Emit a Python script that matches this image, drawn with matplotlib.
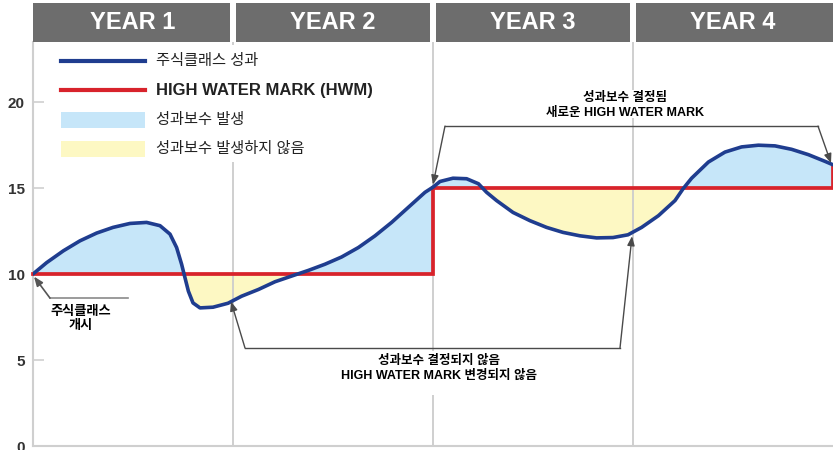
import numpy as np
import matplotlib
matplotlib.use("Agg")
import matplotlib.pyplot as plt
from matplotlib.patches import Rectangle
from matplotlib.lines import Line2D
from matplotlib.transforms import blended_transform_factory

plt.rcParams['font.family'] = ['Liberation Sans', 'Noto Sans CJK KR', 'DejaVu Sans']

# ---------------- data ----------------
years = ["YEAR 1", "YEAR 2", "YEAR 3", "YEAR 4"]

perf_x = [0.0, 0.068, 0.152, 0.235, 0.318, 0.40, 0.485, 0.568, 0.635, 0.685,
          0.718, 0.743, 0.76, 0.777, 0.80, 0.835, 0.90, 0.975, 1.043, 1.127,
          1.21, 1.293, 1.377, 1.46, 1.543, 1.627, 1.71, 1.793, 1.877, 1.96,
          2.0, 2.035, 2.10, 2.168, 2.227, 2.268, 2.318, 2.40, 2.485, 2.568,
          2.65, 2.735, 2.818, 2.90, 2.975, 3.043, 3.127, 3.21, 3.25, 3.293,
          3.377, 3.46, 3.543, 3.627, 3.71, 3.793, 3.877, 3.96, 4.0]
perf_y = [10.0, 10.66, 11.35, 11.93, 12.38, 12.71, 12.94, 13.0, 12.81, 12.32,
          11.54, 10.57, 9.78, 9.0, 8.32, 8.03, 8.07, 8.3, 8.71, 9.1,
          9.55, 9.88, 10.21, 10.57, 10.99, 11.54, 12.22, 13.0, 13.88, 14.75,
          15.05, 15.38, 15.57, 15.54, 15.25, 14.75, 14.27, 13.58, 13.1, 12.71,
          12.42, 12.22, 12.1, 12.12, 12.28, 12.71, 13.39, 14.27, 14.95, 15.57,
          16.51, 17.09, 17.39, 17.49, 17.45, 17.25, 16.94, 16.55, 16.35]

hwm_x = [0, 2, 2, 4, 4]
hwm_y = [10, 10, 15, 15, 16.35]

y_ticks = [0, 5, 10, 15, 20]

legend_labels = ["주식클래스 성과", "HIGH WATER MARK (HWM)", "성과보수 발생", "성과보수 발생하지 않음"]

# ---------------- style ----------------
BLUE = "#1f3d8f"
RED = "#d8232b"
FILL_BLUE = "#c6e6f9"
FILL_YEL = "#fdf8c3"
GRID = "#cccccc"
HEAD = "#6d6d6d"
ANN = "#4a4a4a"

fig = plt.figure(figsize=(8.33, 4.5), dpi=100)
ax = fig.add_axes([33 / 833, 4 / 450, 800 / 833, 404 / 450])
ax.set_xlim(0, 4)
ax.set_ylim(0, 23.49)

px = np.array(perf_x)
py = np.array(perf_y)

# fills, one segment per HWM level
for i in range(0, len(hwm_x) - 1, 2):
    x0, x1, lvl = hwm_x[i], hwm_x[i + 1], hwm_y[i]
    if x1 <= x0:
        continue
    m = (px >= x0) & (px <= x1)
    xs, ys = px[m], py[m]
    base = np.full_like(ys, lvl)
    ax.fill_between(xs, ys, base, where=ys >= base, interpolate=True,
                    color=FILL_BLUE, lw=0, zorder=1)
    ax.fill_between(xs, ys, base, where=ys <= base, interpolate=True,
                    color=FILL_YEL, lw=0, zorder=1)

# vertical grid lines at year boundaries
for xv in range(1, len(years)):
    ax.axvline(xv, color=GRID, lw=1.3, zorder=1.5)

ax.plot(hwm_x, hwm_y, color=RED, lw=2.7, zorder=4, solid_joinstyle='miter',
        clip_on=False)
ax.plot(px, py, color=BLUE, lw=2.6, zorder=5, solid_joinstyle='round',
        solid_capstyle='round')

# axes styling
for s in ["top", "right"]:
    ax.spines[s].set_visible(False)
for s in ["left", "bottom"]:
    ax.spines[s].set_color("#cfcfcf")
    ax.spines[s].set_linewidth(1.5)
ax.set_xticks([])
ax.set_yticks(y_ticks)
ax.tick_params(axis='y', direction='in', length=8, width=1.2, color="#cfcfcf",
               pad=6, labelsize=11, labelcolor="#333333")
for lab in ax.get_yticklabels():
    lab.set_fontweight('bold')

# header bars
bt = blended_transform_factory(ax.transData, ax.transAxes)
gap = 0.015
hh = 39 / 404
for i, name in enumerate(years):
    x0 = i + (gap if i > 0 else 0)
    x1 = i + 1 - (gap if i < len(years) - 1 else 0)
    ax.add_patch(Rectangle((x0, 1.0), x1 - x0, hh, transform=bt,
                           facecolor=HEAD, edgecolor='none', clip_on=False, zorder=6))
    ax.text(i + 0.5, 1.0 + hh / 2, name, transform=bt, ha='center', va='center',
            color='white', fontsize=17, fontweight='bold', zorder=7, clip_on=False)

# legend (manual)
ta = ax.transAxes
def axx(p):
    return (p - 33) / 800
def axy(p):
    return (446 - p) / 404

ax.add_patch(Rectangle((axx(50), axy(162)), axx(390) - axx(50), axy(45) - axy(162),
                       transform=ta, facecolor='white', edgecolor='none', zorder=3))
ax.add_line(Line2D([axx(61), axx(145)], [axy(61), axy(61)], transform=ta,
                   color=BLUE, lw=3, zorder=4))
ax.add_line(Line2D([axx(61), axx(145)], [axy(90), axy(90)], transform=ta,
                   color=RED, lw=3, zorder=4))
ax.add_patch(Rectangle((axx(61), axy(128)), axx(145) - axx(61), axy(112) - axy(128),
                       transform=ta, facecolor=FILL_BLUE, edgecolor='none', zorder=4))
ax.add_patch(Rectangle((axx(61), axy(157)), axx(145) - axx(61), axy(141) - axy(157),
                       transform=ta, facecolor=FILL_YEL, edgecolor='none', zorder=4))
leg_y = [61, 90, 120, 149]
for lab, yy in zip(legend_labels, leg_y):
    bold = lab.startswith("HIGH")
    ax.text(axx(156), axy(yy), lab, transform=ta, ha='left', va='center',
            fontsize=12 if bold else 11, fontweight='bold' if bold else 'medium',
            color="#222222", zorder=5)

# ---------------- annotations ----------------
arrow_kw = dict(arrowstyle='-|>,head_length=0.55,head_width=0.22', color=ANN, lw=1,
                shrinkA=0, shrinkB=0)

# start of share class
ax.plot([0.475, 0.085], [8.6, 8.6], color="#8a8a8a", lw=1.2, zorder=5)
ax.annotate('', xy=(0.005, 9.85), xytext=(0.085, 8.6),
            arrowprops=dict(arrowstyle='-|>,head_length=0.55,head_width=0.22',
                            color="#555555", lw=1.2, shrinkA=0, shrinkB=0), zorder=6)
ax.text(0.24, 7.4, "주식클래스\n개시", ha='center', va='center', fontsize=9.5,
        fontweight='bold', color='black', linespacing=1.25, zorder=6)

# no fee / HWM unchanged
ax.add_patch(Rectangle((1.72, 2.95), 0.6, 2.6, facecolor='white', edgecolor='none', zorder=2))
ax.plot([1.06, 2.935], [5.70, 5.70], color=ANN, lw=1, zorder=5)
ax.annotate('', xy=(0.99, 8.4), xytext=(1.06, 5.70), arrowprops=arrow_kw, zorder=6)
ax.annotate('', xy=(2.995, 12.2), xytext=(2.935, 5.70), arrowprops=arrow_kw, zorder=6)
ax.text(2.03, 4.5, "성과보수 결정되지 않음\nHIGH WATER MARK 변경되지 않음",
        ha='center', va='center', fontsize=9, fontweight='bold', color='black',
        linespacing=1.3, zorder=6)

# fee paid / new HWM
ax.add_patch(Rectangle((2.6, 19.1), 0.6, 1.6, facecolor='white', edgecolor='none', zorder=2))
ax.plot([2.06, 3.925], [18.6, 18.6], color=ANN, lw=1, zorder=5)
ax.annotate('', xy=(2.0, 15.2), xytext=(2.06, 18.6), arrowprops=arrow_kw, zorder=6)
ax.annotate('', xy=(3.99, 16.45), xytext=(3.925, 18.6), arrowprops=arrow_kw, zorder=6)
ax.text(2.96, 19.78, "성과보수 결정됨\n새로운 HIGH WATER MARK",
        ha='center', va='center', fontsize=9, fontweight='bold', color='black',
        linespacing=1.3, zorder=6)

fig.savefig("out.png", dpi=100)
